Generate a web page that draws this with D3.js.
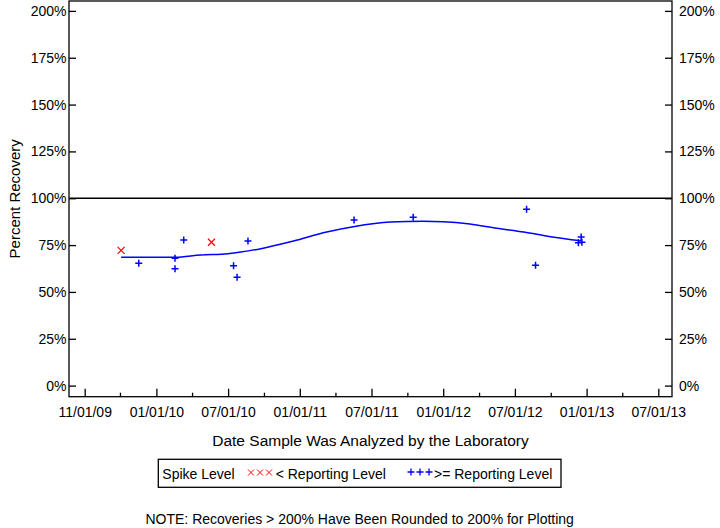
<!DOCTYPE html>
<html>
<head>
<meta charset="utf-8">
<script src="https://cdn.jsdelivr.net/npm/d3@7/dist/d3.min.js"></script>
<style>
  html, body { margin: 0; padding: 0; background: #fff; }
  svg { display: block; font-family: "Liberation Sans", Arial, sans-serif; }
</style>
</head>
<body>
<svg id="chart" width="720" height="528"></svg>
<script>
// ---- Data ----
const majorTickDates = ["2009-11-01","2010-01-01","2010-07-01","2011-01-01","2011-07-01","2012-01-01","2012-07-01","2013-01-01","2013-07-01"];
const majorTickLabels = ["11/01/09","01/01/10","07/01/10","01/01/11","07/01/11","01/01/12","07/01/12","01/01/13","07/01/13"];
const minorTickDates = ["2009-12-01","2010-04-01","2010-10-01","2011-04-01","2011-10-01","2012-04-01","2012-10-01","2013-04-01"];
const yTickValues = [0, 25, 50, 75, 100, 125, 150, 175, 200];

// Spike level < reporting level (red X)
const lowDates  = ["2009-12-02","2010-05-20"];
const lowValues = [72.2, 76.5];

// Spike level >= reporting level (blue +)
const highDates  = ["2009-12-17","2010-02-17","2010-02-17","2010-03-11","2010-07-15","2010-07-24","2010-08-21","2011-05-18","2011-10-16","2012-07-31","2012-08-23","2012-12-11","2012-12-18","2012-12-20"];
const highValues = [65.3, 68.0, 62.4, 77.7, 64.0, 57.8, 77.2, 88.4, 89.8, 94.1, 64.2, 76.3, 79.3, 76.5];

// Smoothed trend line
const fitDates  = ["2009-12-02","2010-02-17","2010-04-23","2010-06-30","2010-09-23","2010-12-16","2011-03-10","2011-05-16","2011-08-18","2011-11-11","2012-01-01","2012-03-09","2012-05-16","2012-07-24","2012-09-30","2012-12-18"];
const fitValues = [68.5, 68.5, 69.7, 70.4, 73.1, 77.2, 82.0, 84.8, 87.3, 87.7, 87.5, 86.3, 84.0, 82.0, 79.5, 77.3];

// ---- Layout ----
const svg = d3.select("#chart");
const frame = {left: 69, right: 672, top: 1, bottom: 396.7};
const firstTickX = 84.7, lastTickX = 658.3;
const parse = d3.timeParse("%Y-%m-%d");

const tickStep = (lastTickX - firstTickX) / (majorTickDates.length - 1);
const x = d3.scaleTime()
  .domain(majorTickDates.map(parse))
  .range(majorTickDates.map((d, i) => firstTickX + i * tickStep));
const y = d3.scaleLinear().domain([0, 200]).range([385.6, 10.9]);

const black = "#000";
const red = "#FF0000";
const blue = "#0000FF";

// Frame
svg.append("rect")
  .attr("x", frame.left).attr("y", frame.top)
  .attr("width", frame.right - frame.left).attr("height", frame.bottom - frame.top)
  .attr("fill", "none").attr("stroke", black).attr("stroke-width", 1.3);

// Y axes
const yLeft = svg.append("g").attr("transform", `translate(${frame.left},0)`)
  .call(d3.axisLeft(y).tickValues(yTickValues).tickSize(-7).tickPadding(2.5).tickFormat(d => d + "%"));
const yRight = svg.append("g").attr("transform", `translate(${frame.right},0)`)
  .call(d3.axisRight(y).tickValues(yTickValues).tickSize(-7).tickPadding(7).tickFormat(d => d + "%"));

// X axis
const xMajor = svg.append("g").attr("transform", `translate(0,${frame.bottom})`)
  .call(d3.axisBottom(x).tickValues(majorTickDates.map(parse)).tickSize(-8).tickPadding(10)
    .tickFormat((d, i) => majorTickLabels[i]));
const xMinor = svg.append("g").attr("transform", `translate(0,${frame.bottom})`)
  .call(d3.axisBottom(x).tickValues(minorTickDates.map(parse)).tickSize(-4).tickFormat(""));

[yLeft, yRight, xMajor, xMinor].forEach(g => {
  g.select(".domain").remove();
  g.selectAll("line").attr("stroke", black).attr("stroke-width", 1.3);
  g.selectAll("text").attr("fill", black).attr("font-size", 14)
    .attr("font-family", "'Liberation Sans', Arial, sans-serif");
});

// 100% reference line
svg.append("line")
  .attr("x1", frame.left).attr("x2", frame.right)
  .attr("y1", y(100)).attr("y2", y(100))
  .attr("stroke", black).attr("stroke-width", 1.3);

// Trend line
const fit = fitDates.map((d, i) => ({date: parse(d), value: fitValues[i]}));
svg.append("path")
  .datum(fit)
  .attr("fill", "none").attr("stroke", blue).attr("stroke-width", 1.5)
  .attr("d", d3.line().x(d => x(d.date)).y(d => y(d.value)).curve(d3.curveMonotoneX));

// Markers
function plus(sel, s) {
  return sel.attr("d", `M${-s},0H${s}M0,${-s}V${s}`);
}
function cross(sel, s) {
  return sel.attr("d", `M${-s},${-s}L${s},${s}M${-s},${s}L${s},${-s}`);
}
const high = highDates.map((d, i) => ({date: parse(d), value: highValues[i]}));
const low = lowDates.map((d, i) => ({date: parse(d), value: lowValues[i]}));

svg.append("g").selectAll("path").data(high).join("path")
  .attr("transform", d => `translate(${x(d.date)},${y(d.value)})`)
  .call(plus, 3.5)
  .attr("stroke", blue).attr("stroke-width", 1.5).attr("fill", "none");

svg.append("g").selectAll("path").data(low).join("path")
  .attr("transform", d => `translate(${x(d.date)},${y(d.value)})`)
  .call(cross, 3.5)
  .attr("stroke", red).attr("stroke-width", 1.2).attr("fill", "none");

// Axis titles
svg.append("text")
  .attr("x", (frame.left + frame.right) / 2).attr("y", 446)
  .attr("text-anchor", "middle").attr("font-size", 15.5).attr("fill", black)
  .text("Date Sample Was Analyzed by the Laboratory");

svg.append("text")
  .attr("transform", `translate(19.5,${(frame.top + frame.bottom) / 2}) rotate(-90)`)
  .attr("text-anchor", "middle").attr("font-size", 15).attr("fill", black)
  .text("Percent Recovery");

// Legend
const legend = svg.append("g");
legend.append("rect")
  .attr("x", 158.3).attr("y", 459.3).attr("width", 402.7).attr("height", 28)
  .attr("fill", "none").attr("stroke", black).attr("stroke-width", 1.3);
legend.append("text").attr("x", 162.3).attr("y", 478.5).attr("font-size", 14).attr("fill", black).text("Spike Level");
[251, 260, 269].forEach(cx => {
  legend.append("path").attr("transform", `translate(${cx},472.5)`).call(cross, 3)
    .attr("stroke", red).attr("stroke-width", 1).attr("fill", "none");
});
legend.append("text").attr("x", 275.7).attr("y", 478.5).attr("font-size", 14).attr("fill", black).text("< Reporting Level");
[411, 420, 429].forEach(cx => {
  legend.append("path").attr("transform", `translate(${cx},472)`).call(plus, 3.5)
    .attr("stroke", blue).attr("stroke-width", 1.3).attr("fill", "none");
});
legend.append("text").attr("x", 434).attr("y", 478.5).attr("font-size", 14).attr("fill", black).text(">= Reporting Level");

// Note
svg.append("text")
  .attr("x", 359.7).attr("y", 524).attr("text-anchor", "middle")
  .attr("font-size", 14).attr("fill", black)
  .text("NOTE: Recoveries > 200% Have Been Rounded to 200% for Plotting");
</script>
</body>
</html>
